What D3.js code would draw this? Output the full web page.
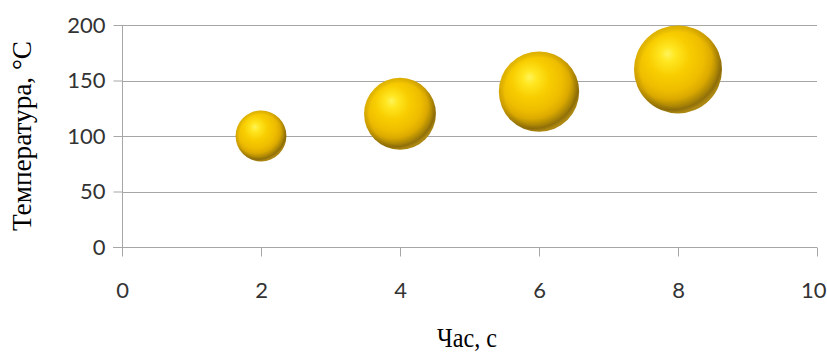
<!DOCTYPE html>
<html>
<head>
<meta charset="utf-8">
<script src="https://cdn.jsdelivr.net/npm/d3@7"></script>
<style>
  html, body { margin: 0; padding: 0; background: #ffffff; }
  svg { display: block; }
</style>
</head>
<body>
<svg id="chart" width="827" height="354"></svg>
<script>
// Time (s), temperature (°C) and bubble size for each measurement
const timeValues = [2, 4, 6, 8];
const temperatureValues = [100, 120, 140, 160];
const bubbleSizes = [10, 20, 25, 30];

const xTickValues = [0, 2, 4, 6, 8, 10];
const yTickValues = [0, 50, 100, 150, 200];

const xTitle = "Час, с";
const yTitle = "Температура, °C";

const width = 827, height = 354;
const margin = { left: 122, right: 10, top: 25, bottom: 107 };

const svg = d3.select("#chart");

const x = d3.scaleLinear().domain([0, 10]).range([margin.left, width - margin.right]);
const y = d3.scaleLinear().domain([0, 200]).range([height - margin.bottom, margin.top]);
const r = d3.scaleSqrt().domain([0, 30]).range([0, 44]);

// Sphere shading: highlight up-left, darker band toward the lower right
const defs = svg.append("defs");
const grad = defs.append("radialGradient")
  .attr("id", "sphere")
  .attr("cx", "0.42").attr("cy", "0.38").attr("r", "0.62")
  .attr("fx", "0.38").attr("fy", "0.32");
[
  [0.00, "#fff45a"],
  [0.14, "#ffe620"],
  [0.38, "#f8cd00"],
  [0.62, "#eebd00"],
  [0.76, "#dcaa00"],
  [0.86, "#b58d04"],
  [0.94, "#94720a"],
  [1.00, "#b89214"]
].forEach(([o, c]) => grad.append("stop").attr("offset", o).attr("stop-color", c));

const rim = defs.append("radialGradient")
  .attr("id", "rim")
  .attr("cx", "0.5").attr("cy", "0.5").attr("r", "0.5");
rim.append("stop").attr("offset", 0.85).attr("stop-color", "#000").attr("stop-opacity", 0);
rim.append("stop").attr("offset", 1).attr("stop-color", "#6a4c00").attr("stop-opacity", 0.15);

// Horizontal gridlines
svg.append("g")
  .selectAll("line")
  .data(yTickValues)
  .join("line")
  .attr("x1", x(0)).attr("x2", x(10))
  .attr("y1", d => Math.round(y(d)) + 0.5).attr("y2", d => Math.round(y(d)) + 0.5)
  .attr("stroke", "#a6a6a6").attr("stroke-width", 1);

const tickFont = "Lato, 'Open Sans', sans-serif";

// Y axis
const yAxis = svg.append("g")
  .attr("transform", `translate(${Math.round(x(0)) + 0.5},0)`)
  .call(d3.axisLeft(y).tickValues(yTickValues).tickSize(9).tickPadding(8).tickFormat(d3.format("d")));
yAxis.selectAll("line").attr("stroke", "#a6a6a6");
yAxis.select(".domain").attr("stroke", "#a6a6a6").attr("d", `M0,${y(200)}V${y(0) + 9}`);
yAxis.selectAll("text")
  .attr("font-family", tickFont)
  .attr("font-size", 22).attr("fill", "#333333");

// X axis
const xAxis = svg.append("g")
  .attr("transform", `translate(0,${Math.round(y(0)) + 0.5})`)
  .call(d3.axisBottom(x).tickValues(xTickValues).tickSize(9).tickPadding(26).tickFormat(d3.format("d")));
xAxis.selectAll("line").attr("stroke", "#a6a6a6");
xAxis.select(".domain").attr("stroke", "#a6a6a6").attr("d", `M${x(0) - 9},0H${x(10)}`);
xAxis.selectAll("text")
  .attr("font-family", tickFont)
  .attr("font-size", 22).attr("fill", "#333333");
// keep the last label inside the page
xAxis.selectAll(".tick").filter(d => d === 10).select("text")
  .attr("text-anchor", "end").attr("x", 9);

// Bubbles
const bubbles = svg.append("g")
  .selectAll("g")
  .data(timeValues.map((t, i) => ({ t, temp: temperatureValues[i], size: bubbleSizes[i] })))
  .join("g")
  .attr("transform", d => `translate(${x(d.t)},${y(d.temp)})`);
bubbles.append("circle").attr("r", d => r(d.size)).attr("fill", "url(#sphere)");
bubbles.append("circle").attr("r", d => r(d.size)).attr("fill", "url(#rim)");

// Axis titles
svg.append("text")
  .attr("x", 467).attr("y", 347)
  .attr("text-anchor", "middle")
  .attr("font-family", "'Liberation Serif', 'DejaVu Serif', serif")
  .attr("font-size", 28).attr("fill", "#000")
  .attr("textLength", 60).attr("lengthAdjust", "spacingAndGlyphs")
  .text(xTitle);

svg.append("text")
  .attr("transform", `translate(31,${(y(0) + y(200)) / 2}) rotate(-90)`)
  .attr("text-anchor", "middle")
  .attr("font-family", "'Liberation Serif', 'DejaVu Serif', serif")
  .attr("font-size", 28).attr("fill", "#000")
  .attr("textLength", 190).attr("lengthAdjust", "spacingAndGlyphs")
  .text(yTitle);
</script>
</body>
</html>
